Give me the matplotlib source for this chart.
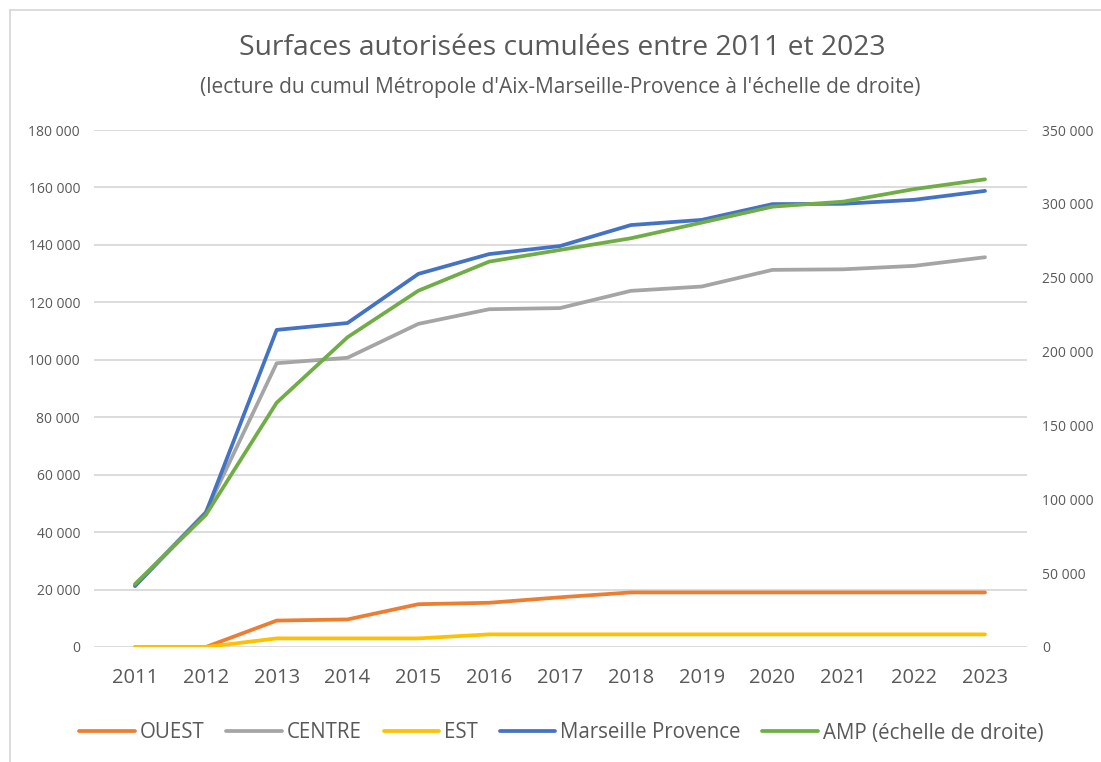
import matplotlib
matplotlib.use("Agg")
from matplotlib import pyplot as plt
from matplotlib.lines import Line2D

years = [2011, 2012, 2013, 2014, 2015, 2016, 2017, 2018, 2019, 2020, 2021, 2022, 2023]
ouest = [0, 0, 9200, 9600, 14900, 15400, 17300, 19000, 19000, 19000, 19000, 19000, 19000]
centre = [21500, 47000, 98800, 100700, 112500, 117600, 118000, 124000, 125500, 131300, 131500, 132700, 135700]
est = [0, 0, 3000, 3000, 3000, 4400, 4400, 4400, 4400, 4400, 4400, 4400, 4400]
marseille = [21200, 46700, 110400, 112800, 129900, 136800, 139600, 146900, 148700, 154200, 154300, 155700, 158800]
amp = [42600, 89400, 165400, 209700, 241200, 260900, 268800, 276700, 287300, 298100, 301500, 310000, 316600]

left_ticks = [0, 20000, 40000, 60000, 80000, 100000, 120000, 140000, 160000, 180000]
right_ticks = [0, 50000, 100000, 150000, 200000, 250000, 300000, 350000]

plt.rcParams['font.family'] = ['Open Sans', 'DejaVu Sans']
txt = '#595959'
grid = '#D9D9D9'
lw = 2.7

def fmt(v):
    return '{:,}'.format(v).replace(',', ' ')

fig = plt.figure(figsize=(11.01, 7.62), dpi=100)
ax = fig.add_axes([94/1101, 1-647/762, (1027-94)/1101, 517/762])
ax2 = ax.twinx()

ax.plot(years, ouest, color='#ED7D31', lw=lw, solid_capstyle='round', label='OUEST')
ax.plot(years, centre, color='#A5A5A5', lw=lw, solid_capstyle='round', label='CENTRE')
ax.plot(years, est, color='#FFC000', lw=lw, solid_capstyle='round', label='EST')
ax.plot(years, marseille, color='#4472C4', lw=lw, solid_capstyle='round', label='Marseille Provence')
ax2.plot(years, amp, color='#70AD47', lw=lw, solid_capstyle='round', label='AMP (échelle de droite)')

ax.set_xlim(2011 - 41/70.83, 2023 + 42/70.83)
ax.set_ylim(0, 180000)
ax2.set_ylim(0, 350000)

ax.set_yticks(left_ticks)
ax.set_yticklabels([fmt(v) for v in left_ticks])
ax2.set_yticks(right_ticks)
ax2.set_yticklabels([fmt(v) for v in right_ticks])
ax.set_xticks(years)
ax.set_xticklabels([str(y) for y in years])

for a in (ax, ax2):
    for s in a.spines.values():
        s.set_visible(False)
ax.grid(axis='y', color=grid, lw=1.3)
ax.set_axisbelow(True)
ax.tick_params(axis='y', length=0, pad=10, labelsize=10, labelcolor=txt)
ax.tick_params(axis='x', length=0, pad=15, labelsize=14.5, labelcolor=txt)
ax2.tick_params(axis='y', length=0, pad=11, labelsize=10, labelcolor=txt)

fig.text(0.511, 1-48/762, 'Surfaces autorisées cumulées entre 2011 et 2023',
         ha='center', va='center', fontsize=20.3, color=txt)
fig.text(0.509, 1-88/762, "(lecture du cumul Métropole d'Aix-Marseille-Provence à l'échelle de droite)",
         ha='center', va='center', fontsize=15, color=txt)

h1, l1 = ax.get_legend_handles_labels()
h2, l2 = ax2.get_legend_handles_labels()
leg = fig.legend(h1 + h2, l1 + l2, loc='center', bbox_to_anchor=(0.51, 1-733/762),
                 ncol=5, frameon=False, fontsize=14.8, handlelength=2.7,
                 handletextpad=0.25, columnspacing=1.05)
for t in leg.get_texts():
    t.set_color(txt)

# chart frame (left and top edges visible)
fig.add_artist(Line2D([10/1101, 10/1101], [0, 1-10/762], color='#D9D9D9', lw=1.3))
fig.add_artist(Line2D([10/1101, 1], [1-10/762, 1-10/762], color='#D9D9D9', lw=1.3))

fig.savefig('out.png', dpi=100)
